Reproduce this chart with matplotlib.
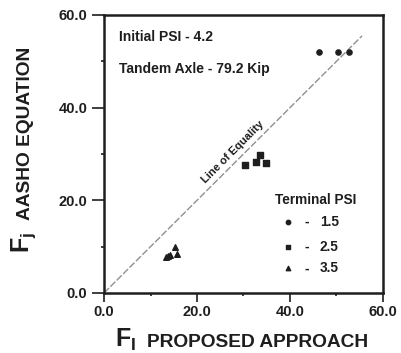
import matplotlib
matplotlib.use('Agg')
import matplotlib.pyplot as plt
from matplotlib.ticker import MultipleLocator

plt.rcParams['font.family'] = ['Liberation Sans', 'DejaVu Sans']
plt.rcParams['font.weight'] = 'bold'
plt.rcParams['mathtext.fontset'] = 'custom'
plt.rcParams['mathtext.rm'] = 'Liberation Sans:bold'
plt.rcParams['mathtext.bf'] = 'Liberation Sans:bold'
plt.rcParams['mathtext.it'] = 'Liberation Sans:bold'

# data
psi15_x = [46.3, 50.4, 52.6]
psi15_y = [52.1, 52.0, 52.1]
psi25_x = [30.3, 33.5, 32.6, 34.8]
psi25_y = [27.6, 29.8, 28.2, 28.1]
psi35_x = [15.3, 15.7, 13.7, 13.3, 14.2]
psi35_y = [9.9, 8.4, 7.9, 7.8, 8.1]
equality = [0.0, 55.5]
legend_labels = ['1.5', '2.5', '3.5']
ticks = [0.0, 20.0, 40.0, 60.0]

ink = '#1e1e1e'

fig = plt.figure(figsize=(4.01, 3.53), dpi=100)
ax = fig.add_axes([104 / 401, 60 / 353, 279 / 401, 278 / 353])

ax.plot(equality, equality, color='#909090', lw=1.0, ls=(0, (5, 1.5)), zorder=1)
ax.scatter(psi15_x, psi15_y, marker='o', s=14, color=ink, zorder=3)
ax.scatter(psi25_x, psi25_y, marker='s', s=22, color=ink, zorder=3)
ax.scatter(psi35_x, psi35_y, marker='^', s=16, color=ink, zorder=3)

ax.text(27.7, 30.4, 'Line of Equality', rotation=45, fontsize=8,
        ha='center', va='center', color=ink)
ax.text(3.2, 55.2, 'Initial PSI - 4.2', fontsize=10, va='center', color=ink)
ax.text(3.2, 48.3, 'Tandem Axle - 79.2 Kip', fontsize=10, va='center', color=ink)

# hand-drawn legend like the original
ax.text(36.7, 20.0, 'Terminal PSI', fontsize=9.8, va='center', color=ink)
leg_y = [15.3, 9.9, 5.3]
for m, lab, yy in zip(['o', 's', '^'], legend_labels, leg_y):
    ax.scatter([39.6], [yy], marker=m, s=10, color=ink, zorder=3)
    ax.text(43.2, yy, '-', fontsize=9.8, va='center', color=ink)
    ax.text(46.4, yy, lab, fontsize=9.8, va='center', color=ink)

ax.set_xlim(0, 60)
ax.set_ylim(0, 60)
ax.set_xticks(ticks)
ax.set_yticks(ticks)
ax.set_xticklabels(['%.1f' % t for t in ticks])
ax.set_yticklabels(['%.1f' % t for t in ticks])
ax.xaxis.set_minor_locator(MultipleLocator(10))
ax.yaxis.set_minor_locator(MultipleLocator(10))
ax.tick_params(which='major', direction='out', width=1.2,
               labelsize=10.5, colors=ink)
ax.tick_params(which='minor', direction='out', length=2.5, width=1.2, colors=ink)
ax.tick_params(axis='x', which='major', length=6.5, pad=2)
ax.tick_params(axis='y', which='major', length=8.5, pad=3.5)
for sp in ax.spines.values():
    sp.set_linewidth(1.8)
    sp.set_color(ink)

fig.text(115 / 401, 6 / 353, r'$\mathbf{F_I}$', fontsize=18, va='baseline', color=ink)
fig.text(147 / 401, 6 / 353, 'PROPOSED APPROACH', fontsize=13.8, va='baseline', color=ink)
fig.text(38 / 401, 100 / 353, r'$\mathbf{F_j}$', fontsize=18, rotation=90,
         ha='right', va='bottom', color=ink)
fig.text(34 / 401, 306 / 353, 'AASHO EQUATION', fontsize=13.8, rotation=90,
         ha='right', va='top', color=ink)

fig.savefig('out.png', dpi=100)
